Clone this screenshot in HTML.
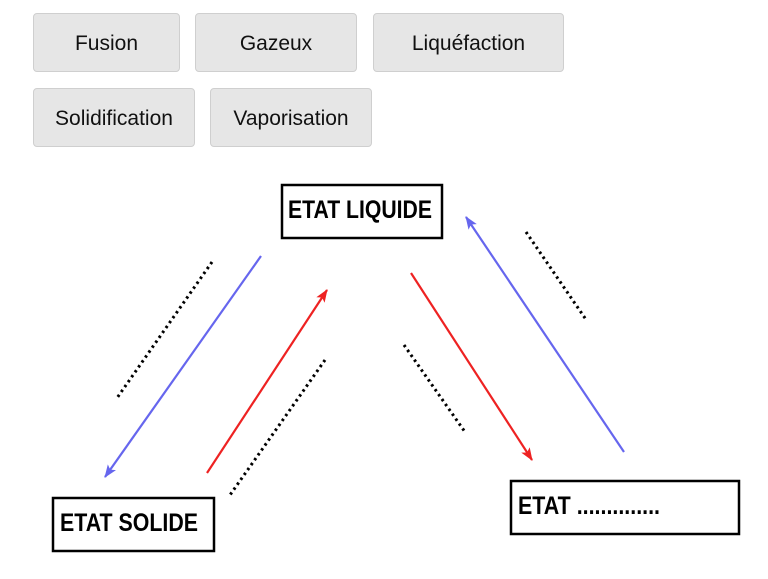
<!DOCTYPE html>
<html><head><style>
body{margin:0;width:768px;height:579px;background:#fff;position:relative;overflow:hidden;font-family:"Liberation Sans",sans-serif}
.b{position:absolute;background:#e6e6e6;border:1px solid #cfcfcf;border-radius:4px;box-sizing:border-box;font-size:21px;color:#111;display:flex;align-items:center;justify-content:center;padding-top:2px}
svg{position:absolute;left:0;top:0}
</style></head><body>
<div class="b" style="left:33px;top:13px;width:147px;height:59px">Fusion</div>
<div class="b" style="left:195px;top:13px;width:162px;height:59px">Gazeux</div>
<div class="b" style="left:373px;top:13px;width:191px;height:59px">Liquéfaction</div>
<div class="b" style="left:33px;top:88px;width:162px;height:59px">Solidification</div>
<div class="b" style="left:210px;top:88px;width:162px;height:59px">Vaporisation</div>
<svg width="768" height="579">
<defs>
<marker id="mb" markerWidth="14" markerHeight="12" refX="12" refY="5" orient="auto" markerUnits="userSpaceOnUse"><path d="M0,0L13,5L0,10L3,5z" fill="#6666ee"/></marker>
<marker id="mr" markerWidth="14" markerHeight="12" refX="12" refY="5" orient="auto" markerUnits="userSpaceOnUse"><path d="M0,0L13,5L0,10L3,5z" fill="#ee2222"/></marker>
</defs>
<g fill="#fff" stroke="#000" stroke-width="2.5">
<rect x="282" y="185" width="160" height="53"/>
<rect x="53" y="498" width="161" height="53"/>
<rect x="511" y="481" width="228" height="53"/>
</g>
<g font-weight="bold" font-size="25" fill="#000">
<text x="288" y="218" textLength="144" lengthAdjust="spacingAndGlyphs">ETAT LIQUIDE</text>
<text x="60" y="531" textLength="138" lengthAdjust="spacingAndGlyphs">ETAT SOLIDE</text>
<text x="518" y="514" textLength="142" lengthAdjust="spacingAndGlyphs">ETAT ..............</text>
</g>
<g stroke-width="2.2" fill="none">
<line x1="261" y1="256" x2="105" y2="477" stroke="#6666ee" marker-end="url(#mb)"/>
<line x1="207" y1="473" x2="327" y2="290" stroke="#ee2222" marker-end="url(#mr)"/>
<line x1="411" y1="273" x2="532" y2="460" stroke="#ee2222" marker-end="url(#mr)"/>
<line x1="624" y1="452" x2="466" y2="217" stroke="#6666ee" marker-end="url(#mb)"/>
</g>
<g stroke="#000" stroke-width="3" stroke-dasharray="2.5 3.5">
<line x1="212" y1="262" x2="117" y2="398"/>
<line x1="325" y1="360" x2="230" y2="495"/>
<line x1="404" y1="345" x2="465" y2="432"/>
<line x1="526" y1="232" x2="587" y2="321"/>
</g>
</svg>
</body></html>
